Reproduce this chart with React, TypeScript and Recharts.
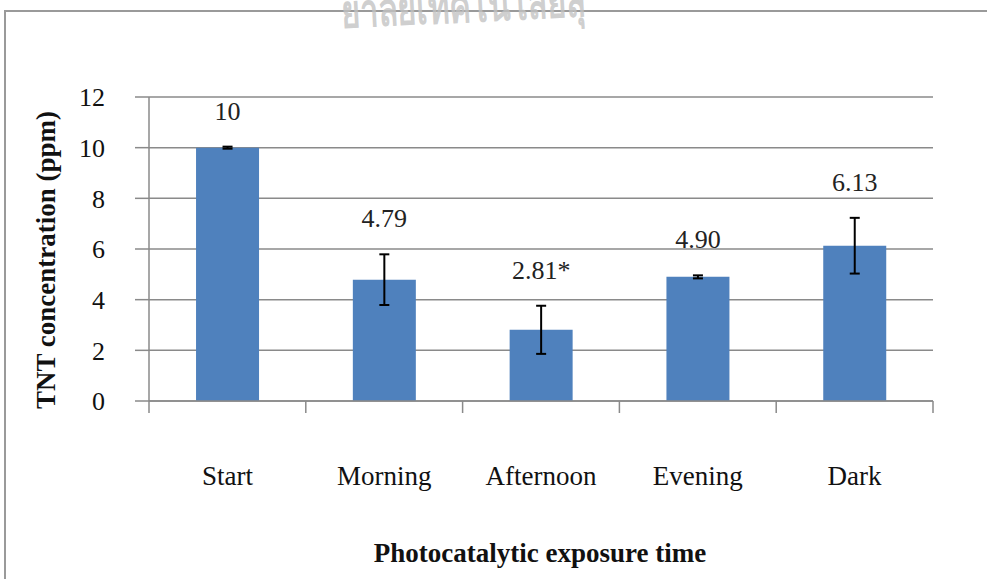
import React from "react";
import {
  BarChart,
  Bar,
  XAxis,
  YAxis,
  CartesianGrid,
  ErrorBar,
  LabelList,
} from "recharts";

const categories = ["Start", "Morning", "Afternoon", "Evening", "Dark"];
const concentration = [10, 4.79, 2.81, 4.9, 6.13];
const stdError = [0.04, 1.0, 0.95, 0.06, 1.1];
const valueLabels = ["10", "4.79", "2.81*", "4.90", "6.13"];
const yTicks = [0, 2, 4, 6, 8, 10, 12];

const data = categories.map((name, i) => ({
  name,
  tnt: concentration[i],
  err: stdError[i],
}));

const W = 987;
const H = 579;
const PLOT_LEFT = 149;
const PLOT_RIGHT = 933;
const PLOT_TOP = 97;
const PLOT_BOTTOM = 401;
const BAND = (PLOT_RIGHT - PLOT_LEFT) / categories.length;

const SERIF = '"Liberation Serif", Tinos, "Times New Roman", "DejaVu Serif", serif';
const GRID = "#8a8a8a";
const BLUE = "#4F81BD";

// category label at the band centre, tick marks on the band edges
function CategoryTick(props: any) {
  const { x, payload, index } = props;
  const left = x - BAND / 2;
  return (
    <g>
      <line x1={left} y1={PLOT_BOTTOM} x2={left} y2={PLOT_BOTTOM + 12} stroke={GRID} strokeWidth={1.5} />
      {index === categories.length - 1 && (
        <line
          x1={x + BAND / 2}
          y1={PLOT_BOTTOM}
          x2={x + BAND / 2}
          y2={PLOT_BOTTOM + 12}
          stroke={GRID}
          strokeWidth={1.5}
        />
      )}
      <text x={x} y={485} textAnchor="middle" fontFamily={SERIF} fontSize={27} fill="#111">
        {payload.value}
      </text>
    </g>
  );
}

// value label sitting above the error bar cap
function ValueLabel(props: any) {
  const vb = props.viewBox ?? props;
  const { x, y, width, height } = vb;
  const index = props.index ?? 0;
  const perUnit = height / concentration[index];
  const capTop = y - stdError[index] * perUnit;
  return (
    <text
      x={x + width / 2}
      y={capTop - 27}
      textAnchor="middle"
      fontFamily={SERIF}
      fontSize={26}
      fill="#222"
    >
      {valueLabels[index]}
    </text>
  );
}

export default function App() {
  return (
    <div
      style={{
        position: "absolute",
        left: 0,
        top: 0,
        width: W,
        height: H,
        overflow: "hidden",
        background: "#fff",
      }}
    >
      <div
        style={{
          position: "absolute",
          left: 4,
          top: 10,
          width: 1200,
          height: 800,
          border: "2px solid #9a9a9a",
        }}
      />
      <div style={{ position: "absolute", left: 0, top: 0 }}>
        <BarChart
          width={W}
          height={H}
          data={data}
          margin={{ top: PLOT_TOP, right: W - PLOT_RIGHT, bottom: H - PLOT_BOTTOM - 60, left: 0 }}
          barCategoryGap="30%"
        >
          <CartesianGrid vertical={false} stroke={GRID} strokeWidth={1.5} />
          <XAxis
            dataKey="name"
            height={60}
            tickLine={false}
            axisLine={{ stroke: GRID, strokeWidth: 1.5 }}
            tick={<CategoryTick />}
            interval={0}
          />
          <YAxis
            width={PLOT_LEFT}
            domain={[0, 12]}
            ticks={yTicks}
            tickSize={14}
            tickMargin={30}
            axisLine={{ stroke: GRID, strokeWidth: 1.5 }}
            tickLine={{ stroke: GRID, strokeWidth: 1.5 }}
            tick={{ fontFamily: SERIF, fontSize: 26, fill: "#111" }}
          />
          <Bar dataKey="tnt" fill={BLUE} isAnimationActive={false}>
            <ErrorBar dataKey="err" width={5} strokeWidth={2} stroke="#000" direction="y" />
            <LabelList dataKey="tnt" content={<ValueLabel />} />
          </Bar>
        </BarChart>
      </div>
      <svg
        width={W}
        height={H}
        style={{ position: "absolute", left: 0, top: 0, pointerEvents: "none" }}
      >
        {/* faded page watermark, partly cut by the top edge */}
        <text
          x={464}
          y={22}
          transform="rotate(-3, 464, 22)"
          textAnchor="middle"
          fontFamily='"Noto Sans", sans-serif'
          fontSize={46}
          fontWeight="bold"
          textLength={245}
          lengthAdjust="spacingAndGlyphs"
          fill="#c2c2c2"
          fillOpacity={0.8}
        >
          ยาลัยเทคโนโลยีสุ
        </text>
        <text
          x={540}
          y={562}
          textAnchor="middle"
          fontFamily={SERIF}
          fontSize={27}
          fontWeight="bold"
          fill="#111"
        >
          Photocatalytic exposure time
        </text>
        <text
          x={55}
          y={260}
          transform="rotate(-90, 55, 260)"
          textAnchor="middle"
          fontFamily={SERIF}
          fontSize={27}
          fontWeight="bold"
          fill="#111"
        >
          TNT concentration (ppm)
        </text>
      </svg>
    </div>
  );
}
